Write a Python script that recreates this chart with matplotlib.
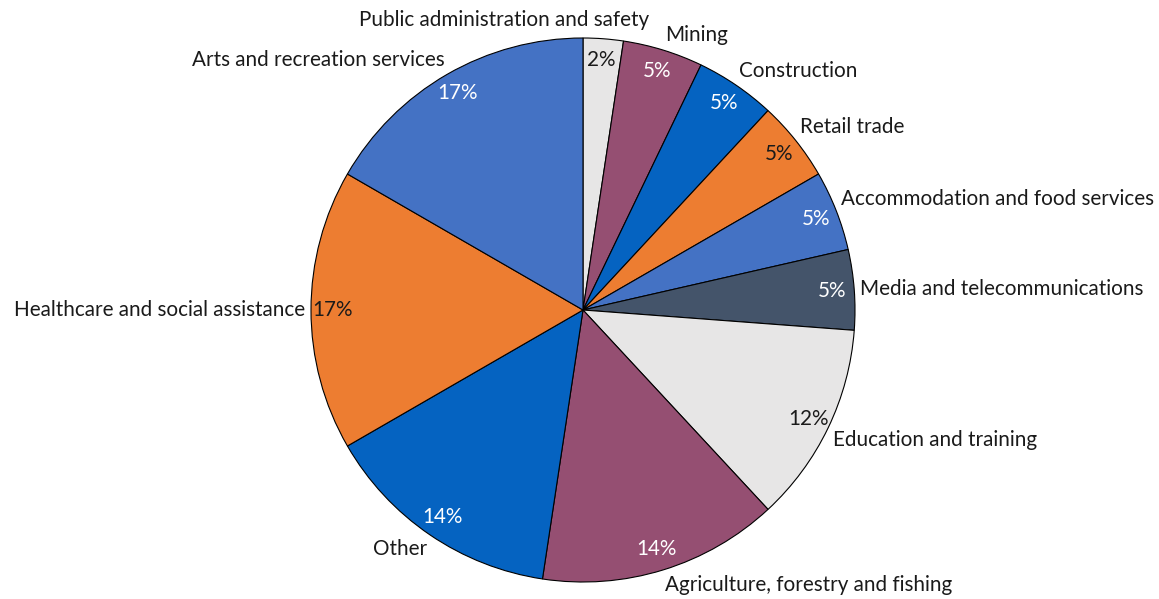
import numpy as np
import matplotlib.pyplot as plt

# Industry split (counts of respondents, shown as percentages)
sectors = [
    'Public administration and safety',
    'Mining',
    'Construction',
    'Retail trade',
    'Accommodation and food services',
    'Media and telecommunications',
    'Education and training',
    'Agriculture, forestry and fishing',
    'Other',
    'Healthcare and social assistance',
    'Arts and recreation services',
]
counts = [1, 2, 2, 2, 2, 2, 5, 6, 6, 7, 7]

office_colors = ['#E7E6E6', '#954F72', '#0563C1', '#ED7D31', '#4472C4', '#44546A']
colors = [office_colors[i % 6] for i in range(len(counts))]
dark = {'#954F72', '#0563C1', '#4472C4', '#44546A'}

plt.rcParams['font.family'] = ['Lato', 'DejaVu Sans']

W, H, DPI = 1159, 599, 100
R = 272            # pie radius in pixels
CX, CY = 583, 310  # pie centre in pixels (from top-left)

fig = plt.figure(figsize=(W / DPI, H / DPI), dpi=DPI)
ax = fig.add_axes([0, 0, 1, 1])

wedges, texts, autotexts = ax.pie(
    counts, labels=sectors, colors=colors, startangle=90, counterclock=False,
    autopct='%1.0f%%', pctdistance=0.92, labeldistance=1.02,
    wedgeprops=dict(edgecolor='black', linewidth=0.8),
    textprops=dict(fontsize=14.9, color='#1a1a1a'),
)

for c, t in zip(colors, autotexts):
    t.set_color('white' if c in dark else '#1a1a1a')

# let the label box touch the rim with its nearest corner
for t in texts:
    x, y = t.get_position()
    if y > 0.3:
        t.set_verticalalignment('bottom')
    elif y < -0.3:
        t.set_verticalalignment('top')

# first label sits above the pie, shifted left to clear "Mining"
texts[0].set_position((-0.29, 1.066))
texts[0].set_horizontalalignment('center')
texts[0].set_verticalalignment('center')

ax.set_xlim(-CX / R, (W - CX) / R)
ax.set_ylim(-(H - CY) / R, CY / R)
ax.axis('off')

fig.savefig('out.png', dpi=DPI, facecolor='white')
